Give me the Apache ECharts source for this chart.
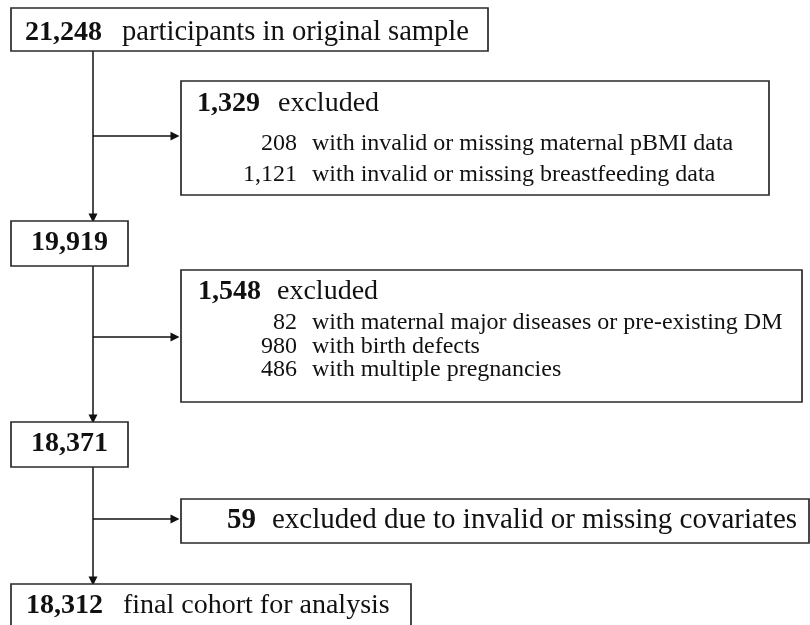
<!DOCTYPE html>
<html>
<head>
<meta charset="utf-8">
<script src="https://cdn.jsdelivr.net/npm/echarts@6/dist/echarts.min.js"></script>
<style>
  html, body { margin: 0; padding: 0; background: #fff; }
  #chart { width: 810px; height: 625px; }
</style>
</head>
<body>
<div id="chart"></div>
<script>
// counts and texts of the flow
const stepCounts = ['21,248', '19,919', '18,371', '18,312'];
const stepLabels = ['participants in original sample', '', '', 'final cohort for analysis'];
const excludedCounts = ['1,329', '1,548', '59'];
const excludedLabels = ['excluded', 'excluded', 'excluded due to invalid or missing covariates'];
const reasonCounts = [['208', '1,121'], ['82', '980', '486'], []];
const reasonLabels = [
  ['with invalid or missing maternal pBMI data', 'with invalid or missing breastfeeding data'],
  ['with maternal major diseases or pre-existing DM', 'with birth defects', 'with multiple pregnancies'],
  []
];

// layout, in units of the hidden axes (1 unit = 1px)
const stepBoxes = [[11, 8, 488, 51], [11, 221, 128, 266], [11, 422, 128, 467], [11, 584, 411, 640]];
const stepTextPos = [[25, 122, 42], [null, null, 252], [null, null, 453], [26, 123, 615]]; // numX, labelX, baseline
const stepLabelFont = [28.6, 0, 0, 28];
const excludedBoxes = [[181, 81, 769, 195], [181, 270, 802, 402], [181, 499, 809, 543]];
const excludedTextPos = [[197, 278, 113], [198, 277, 301], [227, 272, 530]];
const excludedFont = [28, 28, 29];
const reasonNumRight = 297;
const reasonLabelX = 312;
const reasonBaselines = [[152, 183], [331, 355, 378], []];
const spineX = 93;
const branchY = [136, 337, 519];

const FONT = '"Liberation Serif", "Times New Roman", serif';
const INK = '#111';

function txt(api, text, x, baseline, size, bold, align) {
  const p = api.coord([x, baseline]);
  return {
    type: 'text',
    style: {
      text: text,
      x: p[0],
      y: p[1] - size * 0.3375,
      font: (bold ? 'bold ' : '') + size + 'px ' + FONT,
      fill: INK,
      align: align || 'left',
      verticalAlign: 'middle'
    }
  };
}

function boxRect(api, b) {
  const p0 = api.coord([b[0], b[1]]);
  const p1 = api.coord([b[2], b[3]]);
  return {
    type: 'rect',
    shape: { x: p0[0], y: p0[1], width: p1[0] - p0[0], height: p1[1] - p0[1] },
    style: { fill: '#fff', stroke: '#2a2a2a', lineWidth: 1.7 }
  };
}

function renderStep(params, api) {
  const i = params.dataIndex;
  const b = stepBoxes[i];
  const t = stepTextPos[i];
  const children = [boxRect(api, b)];
  if (t[0] === null) {
    children.push(txt(api, stepCounts[i], (b[0] + b[2]) / 2, t[2], 28, true, 'center'));
  } else {
    children.push(txt(api, stepCounts[i], t[0], t[2], 28, true));
    children.push(txt(api, stepLabels[i], t[1], t[2], stepLabelFont[i], false));
  }
  return { type: 'group', children: children };
}

function renderExcluded(params, api) {
  const i = params.dataIndex;
  const t = excludedTextPos[i];
  const fs = excludedFont[i];
  const children = [boxRect(api, excludedBoxes[i])];
  children.push(txt(api, excludedCounts[i], t[0], t[2], fs, true));
  children.push(txt(api, excludedLabels[i], t[1], t[2], fs, false));
  reasonCounts[i].forEach((c, k) => {
    children.push(txt(api, c, reasonNumRight, reasonBaselines[i][k], 24, false, 'right'));
    children.push(txt(api, reasonLabels[i][k], reasonLabelX, reasonBaselines[i][k], 24, false));
  });
  return { type: 'group', children: children };
}

// connectors derived from the box layout
const connectors = [];
for (let i = 0; i < stepBoxes.length - 1; i++) {
  connectors.push({ coords: [[spineX, stepBoxes[i][3]], [spineX, stepBoxes[i + 1][1] - 3]] });
  connectors.push({ coords: [[spineX, branchY[i]], [excludedBoxes[i][0] - 6, branchY[i]]] });
}

const chart = echarts.init(document.getElementById('chart'));
chart.setOption({
  animation: false,
  backgroundColor: '#fff',
  grid: { left: 0, right: 0, top: 0, bottom: 0 },
  xAxis: { type: 'value', min: 0, max: 810, show: false },
  yAxis: { type: 'value', min: 0, max: 625, inverse: true, show: false },
  series: [
    {
      type: 'lines',
      coordinateSystem: 'cartesian2d',
      silent: true,
      symbol: ['none', 'triangle'],
      symbolSize: 9,
      lineStyle: { color: INK, width: 1.5, opacity: 1 },
      data: connectors,
      z: 1
    },
    {
      type: 'custom',
      coordinateSystem: 'cartesian2d',
      silent: true,
      clip: false,
      renderItem: renderStep,
      data: stepCounts.map((c, i) => [i, i]),
      z: 2
    },
    {
      type: 'custom',
      coordinateSystem: 'cartesian2d',
      silent: true,
      clip: false,
      renderItem: renderExcluded,
      data: excludedCounts.map((c, i) => [i, i]),
      z: 2
    }
  ]
});
</script>
</body>
</html>
